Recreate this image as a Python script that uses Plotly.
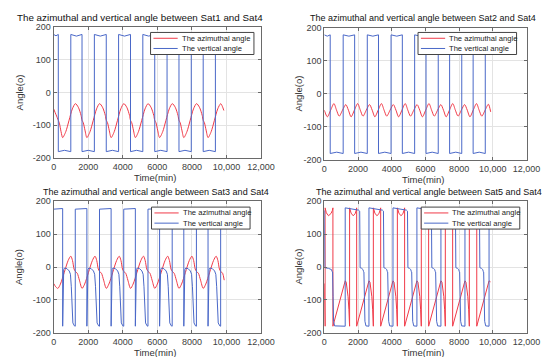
import plotly.graph_objects as go

W, H = 550, 357
FONT = "Liberation Sans, Arial, sans-serif"
RED = "#f03a48"
BLUE = "#4a68c8"

x_tickvals = [0, 2000, 4000, 6000, 8000, 10000, 12000]
x_ticktext = ["0", "2000", "4000", "6000", "8000", "10,000", "12,000"]
y_tickvals = [-200, -100, 0, 100, 200]
y_ticktext = ["-200", "-100", "0", "100", "200"]

titles = [
    "The azimuthal and vertical angle between Sat1 and Sat4",
    "The azimuthal and vertical angle between Sat2 and Sat4",
    "The azimuthal and vertical angle between Sat3 and Sat4",
    "The azimuthal and vertical angle between Sat5 and Sat4",
]
legend_names = ["The azimuthal angle", "The vertical angle"]

# ---------------- Panel 1 : Sat1 - Sat4 ----------------
p1_az_x = [0, 140, 270, 340, 430,
           522, 702, 892, 1082, 1257, 1427, 1587, 1643, 1712, 1812,
           1924, 2104, 2294, 2484, 2659, 2829, 2989, 3045, 3114, 3214,
           3326, 3506, 3696, 3886, 4061, 4231, 4391, 4447, 4516, 4616,
           4728, 4908, 5098, 5288, 5463, 5633, 5793, 5849, 5918, 6018,
           6130, 6310, 6500, 6690, 6865, 7035, 7195, 7251, 7320, 7420,
           7532, 7712, 7902, 8092, 8267, 8437, 8597, 8653, 8722, 8822,
           8934, 9114, 9304, 9494, 9669, 9760, 9850]
p1_az_y = [-50, -68, -85, -96, -120,
           -138, -120, -85, -50, -34, -45, -70, -85, -92, -115,
           -138, -120, -85, -50, -34, -45, -70, -85, -92, -115,
           -138, -120, -85, -50, -34, -45, -70, -85, -92, -115,
           -138, -120, -85, -50, -34, -45, -70, -85, -92, -115,
           -138, -120, -85, -50, -34, -45, -70, -85, -92, -115,
           -138, -120, -85, -50, -34, -45, -70, -85, -92, -115,
           -138, -120, -85, -50, -34, -42, -55]
p1_ve_x = [0, 135, 270, 270, 630, 993, 993, 1318, 1643, 1643, 2000, 2356,
           2356, 2700, 3045, 3045, 3400, 3758, 3758, 4100, 4448, 4448, 4800,
           5160, 5160, 5500, 5850, 5850, 6200, 6562, 6562, 6900, 7252, 7252,
           7600, 7964, 7964, 8300, 8654, 8654, 9000, 9360, 9360, 9600, 9850]
p1_ve_y = [178, 174, 178, -181, -177, -181, 178, 173, 178, -181, -177, -181,
           178, 173, 178, -181, -177, -181, 178, 173, 178, -181, -177,
           -181, 178, 173, 178, -181, -177, -181, 178, 173, 178, -181,
           -177, -181, 178, 173, 178, -181, -177, -181, 178, 175, 178]

# ---------------- Panel 2 : Sat2 - Sat4 ----------------
p2_az_x = [0, 180, 375, 570, 727, 885, 1080, 1275, 1432, 1590, 1785, 1980,
           2137, 2295, 2490, 2685, 2842, 3000, 3195, 3390, 3547, 3705, 3900,
           4095, 4252, 4410, 4605, 4800, 4957, 5115, 5310, 5505, 5662, 5820,
           6015, 6210, 6367, 6525, 6720, 6915, 7072, 7230, 7425, 7620, 7777,
           7935, 8130, 8325, 8482, 8640, 8835, 9030, 9187, 9345, 9540, 9735,
           9870]
p2_az_y = [-50, -70, -50, -30, -50, -68, -50, -33, -50, -70, -50, -30,
           -50, -68, -50, -33, -50, -70, -50, -30, -50, -68, -50,
           -33, -50, -70, -50, -30, -50, -68, -50, -33, -50, -70,
           -50, -30, -50, -68, -50, -33, -50, -70, -50, -30, -50,
           -68, -50, -33, -50, -70, -50, -30, -50, -68, -50, -32,
           -55]
p2_ve_x = [0, 175, 350, 350, 735, 1120, 1120, 1460, 1800, 1800, 2175, 2550,
           2550, 2880, 3215, 3215, 3590, 3960, 3960, 4300, 4630, 4630, 5000,
           5360, 5360, 5700, 6035, 6035, 6400, 6760, 6760, 7100, 7435, 7435,
           7800, 8155, 8155, 8500, 8830, 8830, 9190, 9550, 9550, 9700, 9870]
p2_ve_y = [178, 174, 178, -181, -177, -181, 178, 174, 178, -181, -177, -181,
           178, 174, 178, -181, -177, -181, 178, 174, 178, -181, -177,
           -181, 178, 174, 178, -181, -177, -181, 178, 174, 178, -181,
           -177, -181, 178, 174, 178, -181, -177, -181, 178, 176, 178]

# ---------------- Panel 3 : Sat3 - Sat4 ----------------
p3_az_x = [0, 120,
           243, 391, 617, 841, 991, 1091, 1181, 1252, 1366, 1491,
           1645, 1793, 2019, 2243, 2393, 2493, 2583, 2654, 2768, 2893,
           3047, 3195, 3421, 3645, 3795, 3895, 3985, 4056, 4170, 4295,
           4449, 4597, 4823, 5047, 5197, 5297, 5387, 5458, 5572, 5697,
           5851, 5999, 6225, 6449, 6599, 6699, 6789, 6860, 6974, 7099,
           7253, 7401, 7627, 7851, 8001, 8101, 8191, 8262, 8376, 8501,
           8655, 8803, 9029, 9253, 9403, 9503, 9593, 9664, 9778, 9870]
p3_az_y = [-50, -60,
           -65, -52, -16, 20, 33, 20, -6, -13, -19, -40,
           -65, -52, -16, 20, 33, 20, -6, -13, -19, -40,
           -65, -52, -16, 20, 33, 20, -6, -13, -19, -40,
           -65, -52, -16, 20, 33, 20, -6, -13, -19, -40,
           -65, -52, -16, 20, 33, 20, -6, -13, -19, -40,
           -65, -52, -16, 20, 33, 20, -6, -13, -19, -40,
           -65, -52, -16, 20, 33, 20, -6, -13, -19, -40]
p3_ve_x = [0, 261,
           522, 522, 547, 582, 632, 772, 902, 972, 1022, 1062, 1112, 1202, 1252, 1252, 1588,
           1924, 1924, 1949, 1984, 2034, 2174, 2304, 2374, 2424, 2464, 2514, 2604, 2654, 2654, 2990,
           3326, 3326, 3351, 3386, 3436, 3576, 3706, 3776, 3826, 3866, 3916, 4006, 4056, 4056, 4392,
           4728, 4728, 4753, 4788, 4838, 4978, 5108, 5178, 5228, 5268, 5318, 5408, 5458, 5458, 5794,
           6130, 6130, 6155, 6190, 6240, 6380, 6510, 6580, 6630, 6670, 6720, 6810, 6860, 6860, 7196,
           7532, 7532, 7557, 7592, 7642, 7782, 7912, 7982, 8032, 8072, 8122, 8212, 8262, 8262, 8598,
           8934, 8934, 8959, 8994, 9044, 9184, 9314, 9384, 9434, 9474, 9524, 9614, 9664, 9664, 9870]
p3_ve_y = [176, 177,
           178, -180, -100, -8, -3, -5, -12, -22, -60, -140, -170, -179, -180, 176, 177,
           178, -180, -100, -8, -3, -5, -12, -22, -60, -140, -170, -179, -180, 176, 177,
           178, -180, -100, -8, -3, -5, -12, -22, -60, -140, -170, -179, -180, 176, 177,
           178, -180, -100, -8, -3, -5, -12, -22, -60, -140, -170, -179, -180, 176, 177,
           178, -180, -100, -8, -3, -5, -12, -22, -60, -140, -170, -179, -180, 176, 177,
           178, -180, -100, -8, -3, -5, -12, -22, -60, -140, -170, -179, -180, 176, 177,
           178, -180, -100, -8, -3, -5, -12, -22, -60, -140, -170, -179, -180, 176, 177]

# ---------------- Panel 4 : Sat5 - Sat4 ----------------
p4_az_x = [0, 25, 45, 45, 120, 250, 400, 480,
           510, 510, 710, 910, 1060, 1160, 1240, 1300, 1360, 1410, 1460, 1500, 1500, 1590, 1710, 1830, 1890,
           1920, 1920, 2120, 2320, 2470, 2570, 2650, 2710, 2770, 2820, 2870, 2910, 2910, 3000, 3120, 3240, 3300,
           3345, 3345, 3545, 3745, 3895, 3995, 4075, 4135, 4195, 4245, 4295, 4335, 4335, 4425, 4545, 4665, 4725,
           4765, 4765, 4965, 5165, 5315, 5415, 5495, 5555, 5615, 5665, 5715, 5755, 5755, 5845, 5965, 6085, 6145,
           6190, 6190, 6390, 6590, 6740, 6840, 6920, 6980, 7040, 7090, 7140, 7180, 7180, 7270, 7390, 7510, 7570,
           7615, 7615, 7815, 8015, 8165, 8265, 8345, 8405, 8465, 8515, 8565, 8605, 8605, 8695, 8815, 8935, 8995,
           9045, 9045, 9245, 9445, 9595, 9695, 9775, 9860]
p4_az_y = [-50, -120, -180, 180, 165, 156, 163, 172,
           180, -180, -140, -100, -72, -52, -42, -46, -65, -90, -130, -180, 180, 164, 156, 162, 172,
           180, -180, -140, -100, -72, -52, -42, -46, -65, -90, -130, -180, 180, 164, 156, 162, 172,
           180, -180, -140, -100, -72, -52, -42, -46, -65, -90, -130, -180, 180, 164, 156, 162, 172,
           180, -180, -140, -100, -72, -52, -42, -46, -65, -90, -130, -180, 180, 164, 156, 162, 172,
           180, -180, -140, -100, -72, -52, -42, -46, -65, -90, -130, -180, 180, 164, 156, 162, 172,
           180, -180, -140, -100, -72, -52, -42, -46, -65, -90, -130, -180, 180, 164, 156, 162, 172,
           180, -180, -140, -100, -72, -52, -42, -45]
p4_ve_x = [0, 30, 250, 430, 460, 490, 520, 550, 610,
           1240, 1240, 1390, 1740, 2040, 2100, 2125, 2220, 2300, 2320, 2350, 2380, 2410, 2470,
           2650, 2650, 2800, 3150, 3450, 3510, 3535, 3630, 3710, 3730, 3760, 3790, 3820, 3880,
           4075, 4075, 4225, 4575, 4875, 4935, 4960, 5055, 5135, 5155, 5185, 5215, 5245, 5305,
           5495, 5495, 5645, 5995, 6295, 6355, 6380, 6475, 6555, 6575, 6605, 6635, 6665, 6725,
           6920, 6920, 7070, 7420, 7720, 7780, 7805, 7900, 7980, 8000, 8030, 8060, 8090, 8150,
           8345, 8345, 8495, 8845, 9145, 9205, 9230, 9325, 9405, 9425, 9455, 9485, 9515, 9575,
           9775, 9775, 9860]
p4_ve_y = [172, -2, -4, -8, -13, -15, -90, -165, -179,
           -180, 180, 179, 177, 173, 170, -2, -4, -8, -13, -15, -90, -165, -179,
           -180, 180, 179, 177, 173, 170, -2, -4, -8, -13, -15, -90, -165, -179,
           -180, 180, 179, 177, 173, 170, -2, -4, -8, -13, -15, -90, -165, -179,
           -180, 180, 179, 177, 173, 170, -2, -4, -8, -13, -15, -90, -165, -179,
           -180, 180, 179, 177, 173, 170, -2, -4, -8, -13, -15, -90, -165, -179,
           -180, 180, 179, 177, 173, 170, -2, -4, -8, -13, -15, -90, -165, -179,
           -180, 180, 179]

panels = [
    (p1_az_x, p1_az_y, p1_ve_x, p1_ve_y, "spline"),
    (p2_az_x, p2_az_y, p2_ve_x, p2_ve_y, "spline"),
    (p3_az_x, p3_az_y, p3_ve_x, p3_ve_y, "spline"),
    (p4_az_x, p4_az_y, p4_ve_x, p4_ve_y, "linear"),
]

# axes boxes in pixels (left, top, right, bottom)
boxes = [(44, 14.7, 258, 149), (323.3, 15, 532, 151),
         (44, 193.7, 258, 329), (323.3, 193.7, 532, 329)]

fig = go.Figure()
layout = dict(width=W, height=H, margin=dict(l=0, r=0, t=0, b=0),
              paper_bgcolor="white", plot_bgcolor="white", showlegend=False,
              font=dict(family=FONT, size=9, color="#404040"))
shapes, annots = [], []


def px(xp):
    return xp / W


def py(yp):
    return 1 - yp / H


for i, (ax, ay, vx, vy, shp) in enumerate(panels):
    n = "" if i == 0 else str(i + 1)
    l, t, r, b = boxes[i]
    fig.add_trace(go.Scatter(x=ax, y=ay, mode="lines", name=legend_names[0],
                             line=dict(color=RED, width=1, shape=shp, smoothing=0.8),
                             xaxis="x" + n, yaxis="y" + n))
    fig.add_trace(go.Scatter(x=vx, y=vy, mode="lines", name=legend_names[1],
                             line=dict(color=BLUE, width=1),
                             xaxis="x" + n, yaxis="y" + n))
    common = dict(showline=True, mirror="ticks", linecolor="#6a6a6a", linewidth=1,
                  ticks="inside", ticklen=3, tickcolor="#6a6a6a",
                  showgrid=True, gridcolor="#e3e3e3", gridwidth=1, zeroline=False,
                  tickfont=dict(family=FONT, size=9, color="#404040"))
    layout["xaxis" + n] = dict(domain=[px(l), px(r)], range=[0, 12000],
                               tickvals=x_tickvals, ticktext=x_ticktext,
                               anchor="y" + n, **common)
    layout["yaxis" + n] = dict(domain=[py(b), py(t)], range=[-200, 200],
                               tickvals=y_tickvals, ticktext=y_ticktext,
                               anchor="x" + n, **common)

# titles
title_pos = [(133, 4.6, 9.8), (425, 5.0, 9.0), (150, 184.5, 9.0), (431, 184.5, 9.0)]
for i, (cx, cy, fs) in enumerate(title_pos):
    annots.append(dict(x=px(cx), y=py(cy), xref="paper", yref="paper", text=titles[i],
                       showarrow=False, xanchor="center", yanchor="middle",
                       font=dict(family=FONT, size=fs, color="#111111")))

# axis titles
xt_pos = [(149, 169), (425, 171), (149, 349.7), (425, 349.7)]
yt_pos = [(8.3, 81.7), (296.7, 83.3), (8.3, 261.3), (296.7, 261.3)]
for i in range(4):
    annots.append(dict(x=px(xt_pos[i][0]), y=py(xt_pos[i][1]), xref="paper", yref="paper",
                       text="Time(min)", showarrow=False, xanchor="center", yanchor="middle",
                       font=dict(family=FONT, size=9.5, color="#333333")))
    annots.append(dict(x=px(yt_pos[i][0]), y=py(yt_pos[i][1]), xref="paper", yref="paper",
                       text="Angle(o)", showarrow=False, xanchor="center", yanchor="middle",
                       textangle=-90, font=dict(family=FONT, size=9.5, color="#333333")))

# legends (box, rows, sample, text)
leg = [(144, 20, 250.7, 42.7), (420, 20, 521.7, 42.7),
       (145, 199.7, 246.7, 222.3), (423.3, 199.7, 525, 222.3)]
for (l, t, r, b) in leg:
    shapes.append(dict(type="rect", xref="paper", yref="paper", x0=px(l), x1=px(r),
                       y0=py(b), y1=py(t), line=dict(color="#444444", width=1),
                       fillcolor="white", layer="above"))
    rows = [t + 6, t + 16.5]
    for k, col in enumerate([RED, BLUE]):
        shapes.append(dict(type="line", xref="paper", yref="paper", x0=px(l + 3), x1=px(l + 28),
                           y0=py(rows[k]), y1=py(rows[k]), line=dict(color=col, width=1),
                           layer="above"))
        annots.append(dict(x=px(l + 30), y=py(rows[k]), xref="paper", yref="paper",
                           text=legend_names[k], showarrow=False, xanchor="left",
                           yanchor="middle", font=dict(family=FONT, size=7.6, color="#222222")))

layout["shapes"] = shapes
layout["annotations"] = annots
fig.update_layout(**layout)
fig.write_html("out.html")
